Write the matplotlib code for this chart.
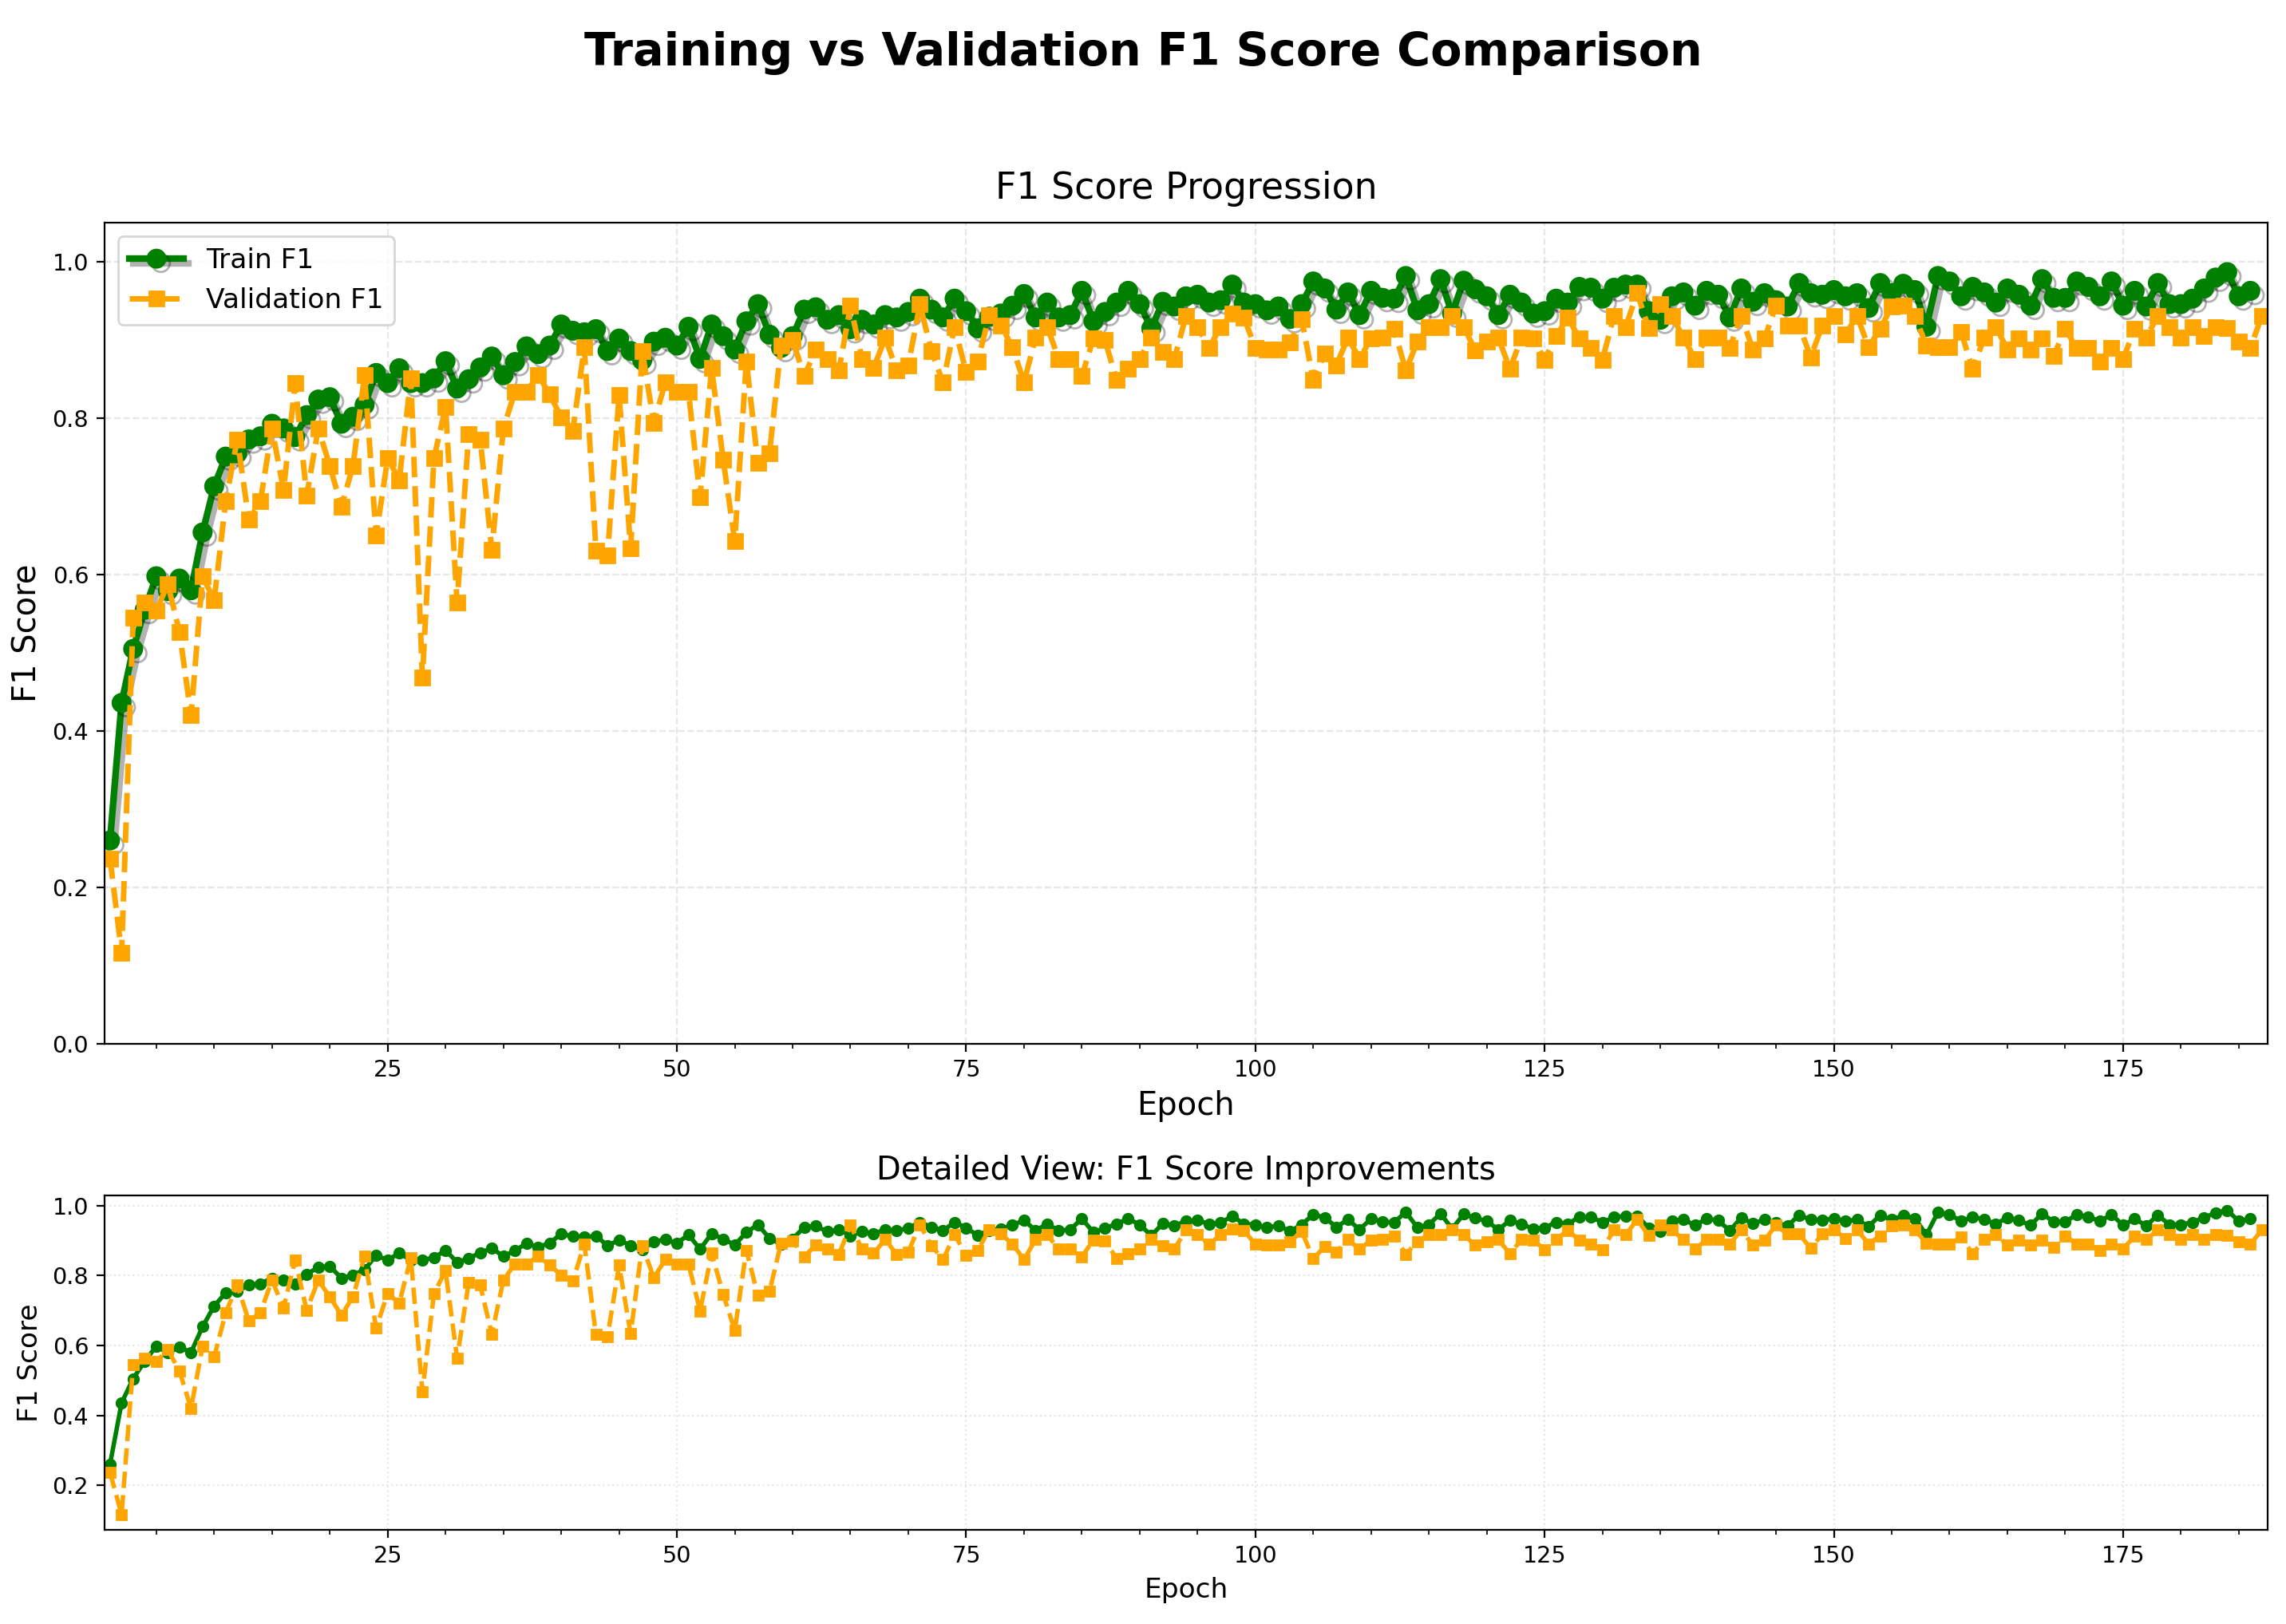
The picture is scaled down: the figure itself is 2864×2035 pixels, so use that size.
import matplotlib
matplotlib.use("Agg")
import matplotlib.pyplot as plt
import matplotlib.patheffects as pe
from matplotlib.ticker import AutoMinorLocator

# F1 scores
train_f1 = [
    0.260, 0.436, 0.505, 0.555, 0.598, 0.579, 0.595, 0.580, 0.654, 0.713,
    0.751, 0.755, 0.773, 0.777, 0.793, 0.787, 0.776, 0.804, 0.824, 0.827,
    0.793, 0.802, 0.817, 0.858, 0.845, 0.864, 0.845, 0.845, 0.851, 0.873,
    0.838, 0.850, 0.865, 0.879, 0.855, 0.872, 0.892, 0.882, 0.893, 0.920,
    0.912, 0.910, 0.914, 0.886, 0.902, 0.886, 0.874, 0.898, 0.903, 0.893,
    0.917, 0.876, 0.920, 0.905, 0.888, 0.924, 0.946, 0.907, 0.890, 0.905,
    0.939, 0.942, 0.926, 0.932, 0.914, 0.926, 0.920, 0.932, 0.929, 0.936,
    0.953, 0.939, 0.929, 0.953, 0.937, 0.915, 0.930, 0.934, 0.944, 0.959,
    0.929, 0.948, 0.929, 0.932, 0.963, 0.924, 0.936, 0.948, 0.963, 0.946,
    0.915, 0.949, 0.943, 0.956, 0.958, 0.948, 0.951, 0.971, 0.948, 0.946,
    0.938, 0.943, 0.927, 0.946, 0.975, 0.966, 0.939, 0.961, 0.932, 0.963,
    0.954, 0.953, 0.982, 0.938, 0.946, 0.978, 0.934, 0.976, 0.965, 0.956,
    0.932, 0.958, 0.948, 0.934, 0.937, 0.953, 0.948, 0.968, 0.967, 0.953,
    0.967, 0.971, 0.971, 0.937, 0.926, 0.956, 0.961, 0.944, 0.963, 0.958,
    0.929, 0.966, 0.949, 0.960, 0.951, 0.943, 0.973, 0.960, 0.958, 0.964,
    0.956, 0.960, 0.941, 0.973, 0.960, 0.972, 0.964, 0.917, 0.982, 0.975,
    0.956, 0.968, 0.961, 0.948, 0.966, 0.958, 0.944, 0.978, 0.954, 0.954,
    0.975, 0.968, 0.956, 0.975, 0.944, 0.963, 0.943, 0.973, 0.946, 0.946,
    0.953, 0.966, 0.980, 0.987, 0.956, 0.963,
]

val_f1 = [
    0.237, 0.116, 0.545, 0.564, 0.554, 0.588, 0.527, 0.420, 0.598, 0.567,
    0.694, 0.773, 0.670, 0.694, 0.787, 0.708, 0.845, 0.701, 0.787, 0.739,
    0.687, 0.739, 0.855, 0.650, 0.749, 0.721, 0.851, 0.468, 0.749, 0.814,
    0.564, 0.780, 0.773, 0.632, 0.787, 0.834, 0.834, 0.855, 0.831, 0.801,
    0.784, 0.891, 0.631, 0.625, 0.830, 0.634, 0.886, 0.794, 0.846, 0.834,
    0.834, 0.699, 0.864, 0.747, 0.643, 0.873, 0.743, 0.755, 0.893, 0.900,
    0.854, 0.888, 0.876, 0.861, 0.944, 0.876, 0.864, 0.903, 0.861, 0.868,
    0.946, 0.886, 0.846, 0.917, 0.859, 0.873, 0.932, 0.919, 0.891, 0.846,
    0.903, 0.917, 0.876, 0.876, 0.854, 0.902, 0.900, 0.849, 0.863, 0.876,
    0.903, 0.885, 0.876, 0.931, 0.917, 0.890, 0.917, 0.934, 0.929, 0.890,
    0.888, 0.888, 0.897, 0.927, 0.849, 0.883, 0.868, 0.903, 0.876, 0.902,
    0.903, 0.914, 0.861, 0.898, 0.917, 0.917, 0.931, 0.917, 0.887, 0.898,
    0.903, 0.863, 0.903, 0.902, 0.875, 0.905, 0.929, 0.902, 0.890, 0.875,
    0.931, 0.917, 0.960, 0.915, 0.946, 0.931, 0.903, 0.876, 0.903, 0.903,
    0.890, 0.931, 0.888, 0.902, 0.944, 0.919, 0.919, 0.878, 0.919, 0.931,
    0.907, 0.931, 0.891, 0.914, 0.943, 0.944, 0.931, 0.893, 0.891, 0.891,
    0.910, 0.863, 0.903, 0.917, 0.888, 0.902, 0.888, 0.902, 0.880, 0.914,
    0.890, 0.890, 0.873, 0.890, 0.876, 0.914, 0.903, 0.931, 0.917, 0.903,
    0.917, 0.905, 0.917, 0.915, 0.898, 0.890, 0.931,
]

train_epochs = list(range(1, len(train_f1) + 1))
val_epochs = list(range(1, len(val_f1) + 1))

plt.rcParams['xtick.labelsize'] = 10.3
plt.rcParams['ytick.labelsize'] = 10.3

fig = plt.figure(figsize=(14.32, 10.175), dpi=200)
fig.suptitle('Training vs Validation F1 Score Comparison',
             fontsize=20.6, fontweight='bold', y=0.9673, va='center')

# main progression plot
ax1 = fig.add_axes([0.0456, 0.3573, 0.9464, 0.5055])
shadow = [pe.SimpleLineShadow(offset=(2, -2), alpha=0.3), pe.Normal()]
ax1.plot(train_epochs, train_f1, color='green', linewidth=3, marker='o',
         markersize=8, label='Train F1', path_effects=shadow)
ax1.plot(val_epochs, val_f1, color='orange', linewidth=2.5, linestyle='--',
         marker='s', markersize=6.5, label='Validation F1')
ax1.set_title('F1 Score Progression', fontsize=16.5, pad=11)
ax1.set_xlabel('Epoch', fontsize=14.4)
ax1.set_ylabel('F1 Score', fontsize=14.4)
ax1.set_xlim(0.5, len(val_f1) + 0.5)
ax1.set_ylim(0, 1.05)
ax1.xaxis.set_minor_locator(AutoMinorLocator())
ax1.grid(True, linestyle='--', alpha=0.3)
ax1.legend(loc='upper left', fontsize=12.4)

# detailed view
ax2 = fig.add_axes([0.0456, 0.0580, 0.9464, 0.2061])
ax2.plot(train_epochs, train_f1, color='green', linewidth=2, marker='o',
         markersize=4.5)
ax2.plot(val_epochs, val_f1, color='orange', linewidth=2, linestyle='--',
         marker='s', markersize=4)
ax2.set_title('Detailed View: F1 Score Improvements', fontsize=14.4, pad=7)
ax2.set_xlabel('Epoch', fontsize=12.4)
ax2.set_ylabel('F1 Score', fontsize=12.4)
ax2.set_xlim(0.5, len(val_f1) + 0.5)
ax2.xaxis.set_minor_locator(AutoMinorLocator())
ax2.grid(True, linestyle=':', alpha=0.3)

fig.savefig('out.png', dpi=200)
